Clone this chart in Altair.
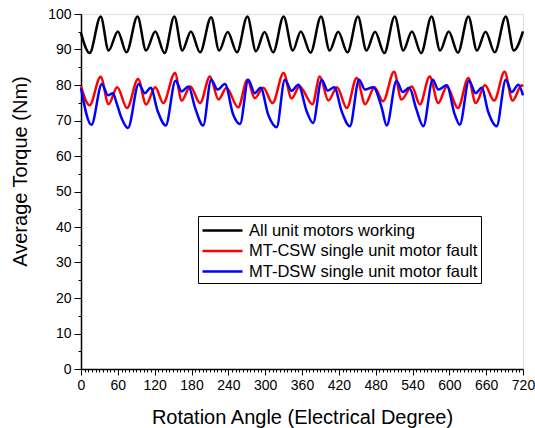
import altair as alt
import pandas as pd

series_names = ["All unit motors working", "MT-CSW single unit motor fault", "MT-DSW single unit motor fault"]
legend_labels = ["\u00a0All unit motors working", "MT-CSW single unit motor fault", "MT-DSW single unit motor fault"]
series_colors = ["#000000", "#ff0000", "#0000ff"]

black_x = [0, 14, 32, 45, 60, 74, 92, 106, 121, 136, 152, 165, 179, 194, 212, 225, 239,
           254, 271, 285, 299, 313, 330, 345, 358, 374, 391, 405, 419, 434, 451, 465, 479,
           494, 511, 525, 539, 554, 571, 585, 599, 614, 631, 645, 659, 674, 692, 705, 720]
black_y = [94.6, 89.0, 99.3, 89.7, 95.1, 89.2, 99.3, 89.7, 95.1, 89.0, 99.3, 89.7, 95.1,
           89.2, 99.1, 89.7, 94.9, 89.2, 99.3, 89.5, 94.9, 89.2, 99.3, 89.7, 95.1, 89.1,
           99.3, 89.7, 95.0, 89.2, 99.3, 89.7, 95.0, 89.0, 99.3, 89.7, 95.1, 89.0, 99.3,
           89.7, 95.1, 89.1, 99.3, 89.7, 95.0, 89.2, 99.3, 89.7, 95.1]

red_x = [0, 14, 32, 45, 59, 75, 93, 106, 121, 134, 153, 164, 178, 194, 210, 224, 237,
         256, 271, 283, 297, 312, 330, 343, 356, 377, 389, 403, 417, 433, 449, 463, 478,
         492, 510, 522, 539, 552, 568, 582, 596, 614, 631, 643, 658, 673, 690, 703, 718, 720]
red_y = [79.6, 74.3, 82.3, 74.6, 79.4, 73.5, 81.7, 74.5, 79.4, 74.9, 83.4, 75.6, 79.6,
         74.9, 82.4, 75.9, 79.2, 73.7, 81.5, 76.3, 79.2, 74.9, 83.4, 76.2, 79.6, 74.6,
         82.4, 75.6, 79.4, 73.5, 82.0, 74.6, 79.4, 75.4, 83.7, 75.9, 79.6, 74.5, 82.4,
         74.9, 79.6, 73.5, 82.0, 74.9, 79.9, 75.6, 83.7, 75.6, 79.9, 79.6]

blue_x = [0, 17, 34, 44, 52, 58, 66, 76.5, 94, 104, 113.5, 125, 138, 154, 164, 175, 186,
          199, 212, 222.6, 234.5, 248, 259, 272.5, 283, 292.6, 305, 318.7, 332, 343, 354,
          367.6, 378, 392, 402, 412.6, 424.6, 438, 453, 462.6, 476, 490, 498, 514, 524,
          535, 545.7, 557.6, 573, 582, 595.7, 609, 617, 632, 643, 652.7, 663, 677, 692,
          701.6, 712.5, 720]
blue_y = [79.1, 68.8, 80.3, 77.1, 77.7, 74.9, 70.7, 67.9, 80.3, 77.7, 79.2, 72.6, 68.6,
          81.2, 78.2, 79.6, 73.5, 68.6, 81.5, 78.7, 80.3, 71.6, 69.0, 81.5, 77.7, 79.2,
          71.6, 68.1, 81.5, 78.4, 80.1, 72.6, 69.3, 81.5, 78.4, 79.4, 72.6, 68.4, 81.5,
          78.7, 79.4, 73.5, 68.6, 81.2, 78.0, 79.2, 73.5, 68.4, 81.5, 78.7, 79.9, 71.6,
          68.8, 81.2, 77.7, 79.2, 72.6, 68.4, 81.5, 78.0, 80.1, 77.1]

rows = []
for name, label, xs, ys in zip(series_names, legend_labels,
                               [black_x, red_x, blue_x], [black_y, red_y, blue_y]):
    for i, (xv, yv) in enumerate(zip(xs, ys)):
        rows.append({"angle": xv, "torque": yv, "series": label, "order": i})
df = pd.DataFrame(rows)

x_tick_values = list(range(0, 721, 6))
y_tick_values = list(range(0, 101, 5))

FONT = "Liberation Sans"

chart = alt.Chart(df).mark_line(strokeWidth=2.5, interpolate="monotone").encode(
    x=alt.X("angle:Q",
            scale=alt.Scale(domain=[0, 720], nice=False, zero=False),
            axis=alt.Axis(title="Rotation Angle (Electrical Degree)",
                          values=x_tick_values,
                          labelExpr="datum.value % 60 === 0 ? datum.label : ''",
                          labelOverlap=False, labelFlush=False,
                          tickSize={"condition": {"test": "datum.value % 60 === 0", "value": 6}, "value": 3},
                          labelPadding=3,
                          grid=False,
                          domainColor="black", domainWidth=1.5,
                          tickColor="black", tickWidth=1,
                          labelColor="black", labelFont=FONT, labelFontSize=14,
                          titleColor="black", titleFont=FONT, titleFontSize=20,
                          titleFontWeight="normal",
                          titleY=54, titleBaseline="alphabetic")),
    y=alt.Y("torque:Q",
            scale=alt.Scale(domain=[0, 100], nice=False),
            axis=alt.Axis(title="Average Torque (Nm)",
                          values=y_tick_values,
                          labelExpr="datum.value % 10 === 0 ? datum.label : ''",
                          labelOverlap=False, labelFlush=False,
                          tickSize={"condition": {"test": "datum.value % 10 === 0", "value": 7}, "value": 3},
                          labelPadding=3,
                          grid=False,
                          domainColor="black", domainWidth=1.5,
                          tickColor="black", tickWidth=1,
                          labelColor="black", labelFont=FONT, labelFontSize=14,
                          titleColor="black", titleFont=FONT, titleFontSize=20,
                          titleFontWeight="normal",
                          titleX=-61, titleY=157, titleBaseline="middle")),
    color=alt.Color("series:N",
                    scale=alt.Scale(domain=legend_labels, range=series_colors),
                    legend=alt.Legend(title=None, orient="none", legendX=117, legendY=202,
                                      strokeColor="black", padding=3,
                                      symbolType="M-1,0H3", symbolSize=400,
                                      symbolStrokeWidth=2.5, labelOffset=25,
                                      labelFont=FONT, labelFontSize=16.5, labelColor="black",
                                      labelLimit=400, rowPadding=0.5)),
    order="order:Q",
).properties(
    width=442, height=355,
    autosize=alt.AutoSizeParams(type="none"),
    padding={"left": 81, "top": 14, "right": 12, "bottom": 59},
).configure_view(stroke=None).configure(background="white")

chart.save("out.html", embed_options={"renderer": "svg", "actions": False})
